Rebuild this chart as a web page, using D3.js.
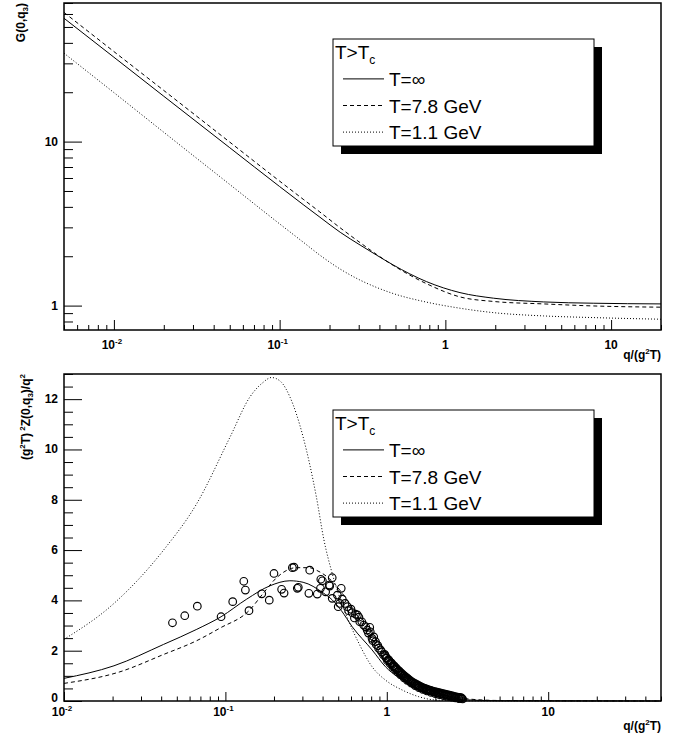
<!DOCTYPE html>
<html>
<head>
<meta charset="utf-8">
<script src="https://cdn.jsdelivr.net/npm/d3@7"></script>
<style>
body { margin: 0; background: #fff; }
text { font-family: "Liberation Sans", Arial, Helvetica, sans-serif; fill: #000; }
.tick-label, .axis-title { font-weight: bold; }
</style>
</head>
<body>
<div id="container"></div>
<script>
// ---- top panel: G(0,q3) vs q/(g^2 T), log-log ----
var gQ      = [0.005, 0.01, 0.02, 0.05, 0.1, 0.14, 0.175, 0.232, 0.306, 0.385, 0.484, 0.77, 1.225, 1.95, 3.92, 7.86, 20];
var gInf    = [56.5, 32.7, 18.9, 9.18, 5.32, 4.10, 3.46, 2.80, 2.34, 2.03, 1.77, 1.40, 1.20, 1.11, 1.053, 1.034, 1.024];
var g78     = [61.3, 35.4, 20.5, 9.93, 5.74, 4.42, 3.72, 2.98, 2.42, 2.05, 1.76, 1.36, 1.13, 1.06, 1.024, 0.995, 0.978];
var g11     = [34.6, 19.9, 11.4, 5.48, 3.15, 2.42, 2.03, 1.67, 1.43, 1.29, 1.185, 1.05, 0.964, 0.906, 0.865, 0.845, 0.826];

// ---- bottom panel: (g^2T)^2 Z(0,q3)/q^2 ----
var zQ      = [0.01, 0.0204, 0.0414, 0.0665, 0.094, 0.1355, 0.1888, 0.251, 0.303, 0.403, 0.459, 0.522, 0.611, 0.811, 0.982, 1.37, 2.09, 3.0, 5.0, 50];
var zInf    = [0.90, 1.40, 2.25, 2.85, 3.35, 4.05, 4.58, 4.78, 4.72, 4.30, 4.02, 3.60, 2.95, 2.03, 1.36, 0.70, 0.17, 0.05, 0.01, 0];
var z78Q    = [0.01, 0.0222, 0.0414, 0.0665, 0.092, 0.1405, 0.175, 0.2075, 0.2754, 0.33, 0.366, 0.443, 0.556, 0.70, 0.85, 1.0, 1.4, 2.0, 3.0, 5.0, 50];
var z78     = [0.70, 1.16, 1.85, 2.40, 2.89, 3.60, 4.35, 4.90, 5.30, 5.30, 5.20, 4.85, 4.10, 3.10, 2.30, 1.75, 0.88, 0.35, 0.10, 0.02, 0];
var z11Q    = [0.01, 0.0204, 0.0414, 0.0665, 0.107, 0.142, 0.17, 0.193, 0.22, 0.251, 0.303, 0.366, 0.408, 0.459, 0.556, 0.672, 0.811, 0.982, 1.243, 1.58, 2.0, 3.0, 50];
var z11     = [2.45, 3.88, 6.0, 7.85, 10.5, 12.09, 12.65, 12.86, 12.7, 12.09, 10.5, 8.12, 6.4, 5.07, 3.48, 2.29, 1.36, 0.83, 0.44, 0.17, 0.04, 0.005, 0];

// lattice points (open circles), scattered part up to q~1
var ptQ = [0.047, 0.056, 0.067, 0.094, 0.111, 0.130, 0.133, 0.140, 0.168, 0.187, 0.200, 0.223, 0.231, 0.260, 0.266, 0.279, 0.283,
           0.329, 0.333, 0.371, 0.388, 0.390, 0.399, 0.418, 0.440, 0.443, 0.459, 0.459, 0.494, 0.500, 0.511, 0.522, 0.551,
           0.580, 0.610, 0.640, 0.658, 0.672, 0.700, 0.720, 0.756, 0.784, 0.810, 0.830, 0.851, 0.880, 0.914, 0.955, 0.980,
           0.53, 0.57, 0.60, 0.63, 0.68, 0.74, 0.77, 0.79, 0.82, 0.86, 0.89, 0.93, 0.97, 0.99];
var ptV = [3.11, 3.39, 3.77, 3.35, 3.95, 4.76, 4.41, 3.59, 4.26, 4.01, 5.07, 4.44, 4.29, 5.30, 5.32, 4.48, 4.52,
           4.28, 5.20, 4.25, 4.48, 4.84, 4.78, 4.34, 4.61, 4.57, 4.90, 4.08, 4.21, 3.75, 3.88, 4.48, 3.88,
           3.59, 3.51, 3.45, 3.42, 3.33, 3.15, 3.02, 2.82, 2.93, 2.49, 2.55, 2.36, 2.20, 2.03, 1.83, 1.80,
           4.05, 3.75, 3.65, 3.30, 3.15, 2.95, 2.70, 2.75, 2.40, 2.25, 2.10, 1.95, 1.85, 1.72];
// dense band of lattice points, q~1 to 3
var bandQ = [1.00, 1.02, 1.04, 1.06, 1.08, 1.10, 1.12, 1.15, 1.18, 1.21, 1.24, 1.27, 1.30, 1.33, 1.36, 1.40, 1.44, 1.48, 1.52, 1.56,
             1.60, 1.65, 1.70, 1.75, 1.80, 1.85, 1.90, 1.96, 2.02, 2.08, 2.14, 2.20, 2.27, 2.34, 2.41, 2.48, 2.55, 2.62, 2.70, 2.78, 2.86, 2.92,
             1.01, 1.05, 1.09, 1.13, 1.17, 1.22, 1.28, 1.34, 1.42, 1.50, 1.58, 1.67, 1.77, 1.88, 2.00, 2.12, 2.25, 2.38, 2.52, 2.66, 2.80, 2.95,
             1.03, 1.07, 1.11, 1.14, 1.165, 1.195, 1.225, 1.255, 1.285, 1.315, 1.345, 1.38, 1.42, 1.46, 1.50, 1.54, 1.58, 1.625, 1.675,
             1.725, 1.775, 1.825, 1.875, 1.93, 1.99, 2.05, 2.11, 2.17, 2.235, 2.305, 2.375, 2.445, 2.515, 2.585, 2.66, 2.74, 2.82, 2.89];
var bandV = [1.70, 1.64, 1.58, 1.52, 1.46, 1.40, 1.35, 1.27, 1.20, 1.13, 1.06, 1.00, 0.94, 0.89, 0.84, 0.77, 0.72, 0.67, 0.63, 0.59,
             0.56, 0.52, 0.48, 0.45, 0.42, 0.40, 0.38, 0.35, 0.33, 0.31, 0.29, 0.27, 0.25, 0.23, 0.21, 0.19, 0.17, 0.15, 0.13, 0.12, 0.11, 0.10,
             1.60, 1.48, 1.36, 1.25, 1.15, 1.04, 0.92, 0.82, 0.71, 0.61, 0.53, 0.46, 0.40, 0.34, 0.29, 0.25, 0.21, 0.18, 0.15, 0.12, 0.09, 0.08,
             1.63, 1.51, 1.40, 1.32, 1.25, 1.19, 1.12, 1.06, 1.00, 0.95, 0.90, 0.84, 0.78, 0.73, 0.69, 0.65, 0.61, 0.57, 0.53,
             0.50, 0.47, 0.44, 0.42, 0.39, 0.37, 0.35, 0.33, 0.31, 0.29, 0.27, 0.25, 0.23, 0.21, 0.19, 0.17, 0.15, 0.14, 0.13];

var legendHeader = "T>T";
var legendLabels = ["T=\u221e", "T=7.8 GeV", "T=1.1 GeV"];
var dashes = [null, "4,3", "1,2"];

var W = 681, H = 738;
var svg = d3.select('#container').append('svg')
	.attr('width', W).attr('height', H);

var frameL = 64, frameR = 661;

// top panel scales
var xTop = d3.scaleLog().domain([0.005, 20]).range([frameL, frameR]);
var yTop = d3.scaleLog().domain([0.71, 70]).range([330, 3]);
// bottom panel scales
var xBot = d3.scaleLog().domain([0.01, 50]).range([frameL, frameR]);
var yBot = d3.scaleLinear().domain([0, 13]).range([701, 374]);

function logLabel(sel, v) {
	var e = Math.round(Math.log10(v));
	if (e < 0) {
		sel.append('tspan').text('10');
		sel.append('tspan').attr('font-size', 8).attr('dy', -5).text(String(e));
	} else sel.text(e == 0 ? "1" : "10");
}

function drawXAxis(x, yPix, tickLen, labelDy, titleDy) {
	var majors = [0.01, 0.1, 1, 10];
	var minors = x.ticks().filter(d => majors.indexOf(d) < 0);
	svg.append('g').attr('transform', 'translate(0,' + yPix + ')')
		.call(d3.axisBottom(x).tickValues(minors).tickSize(-tickLen / 2).tickFormat(''))
		.call(g => g.select('.domain').remove());
	svg.append('g').attr('transform', 'translate(0,' + yPix + ')')
		.call(d3.axisBottom(x).tickValues(majors).tickSize(-tickLen).tickFormat(''))
		.call(g => g.select('.domain').remove());
	majors.forEach(function(m) {
		var t = svg.append('text').attr('class', 'tick-label')
			.attr('x', x(m) - (m < 1 ? 2 : 0)).attr('y', yPix + labelDy)
			.attr('text-anchor', 'middle').attr('font-size', 12);
		logLabel(t, m);
	});
	var title = svg.append('text').attr('class', 'axis-title')
		.attr('x', frameR).attr('y', yPix + titleDy)
		.attr('text-anchor', 'end').attr('font-size', 12);
	title.append('tspan').text('q/(g');
	title.append('tspan').attr('font-size', 8).attr('dy', -5).text('2');
	title.append('tspan').attr('dy', 5).text('T)');
}

function drawFrame(x, y) {
	var r = x.range(), s = y.range();
	svg.append('rect')
		.attr('x', r[0]).attr('y', s[1])
		.attr('width', r[1] - r[0]).attr('height', s[0] - s[1])
		.attr('fill', 'none').attr('stroke', '#000').attr('stroke-width', 1.5);
}

function drawCurves(x, y, series) {
	var line = d3.line()
		.x(d => x(d[0])).y(d => y(d[1]))
		.curve(d3.curveMonotoneX);
	series.forEach(function(s, i) {
		svg.append('path')
			.datum(s.q.map((q, k) => [q, s.v[k]]))
			.attr('d', line)
			.attr('fill', 'none').attr('stroke', '#000').attr('stroke-width', 1)
			.attr('stroke-dasharray', dashes[i]);
	});
}

function drawLegend(x0, y0) {
	var w = 261, h = 107, rowH = 26.6;
	var g = svg.append('g');
	g.append('rect').attr('x', x0 + 8).attr('y', y0 + 8).attr('width', w).attr('height', h).attr('fill', '#000');
	g.append('rect').attr('x', x0).attr('y', y0).attr('width', w).attr('height', h)
		.attr('fill', '#fff').attr('stroke', '#000').attr('stroke-width', 1);
	var hd = g.append('text').attr('x', x0 + 2).attr('y', y0 + 20).attr('font-size', 19);
	hd.append('tspan').text(legendHeader);
	hd.append('tspan').attr('font-size', 12).attr('dy', 5).text('c');
	legendLabels.forEach(function(lab, i) {
		var cy = y0 + rowH * (i + 1.5);
		g.append('line').attr('x1', x0 + 10).attr('x2', x0 + 51)
			.attr('y1', cy).attr('y2', cy)
			.attr('stroke', '#000').attr('stroke-width', 1)
			.attr('stroke-dasharray', dashes[i]);
		g.append('text').attr('x', x0 + 56).attr('y', cy + 7)
			.attr('font-size', 19).text(lab);
	});
}

function drawYAxis(y, majors, minors) {
	svg.append('g').attr('transform', 'translate(' + frameL + ',0)')
		.call(d3.axisLeft(y).tickValues(minors).tickSize(-9).tickFormat(''))
		.call(g => g.select('.domain').remove());
	svg.append('g').attr('transform', 'translate(' + frameL + ',0)')
		.call(d3.axisLeft(y).tickValues(majors).tickSize(-18).tickFormat(''))
		.call(g => g.select('.domain').remove());
	majors.forEach(function(m) {
		svg.append('text').attr('class', 'tick-label')
			.attr('x', 58).attr('y', y(m) + 4 - (m === 0 ? 3 : 0))
			.attr('text-anchor', 'end').attr('font-size', 12).text(m);
	});
}

// ---------- top panel ----------
(function() {
	var x = xTop, y = yTop;
	drawCurves(x, y, [{q: gQ, v: gInf}, {q: gQ, v: g78}, {q: gQ, v: g11}]);
	drawXAxis(x, 330, 10, 19, 29);
	var majors = [1, 10];
	drawYAxis(y, majors, y.ticks().filter(d => majors.indexOf(d) < 0));
	var t = svg.append('text').attr('class', 'axis-title')
		.attr('transform', 'translate(25,3) rotate(-90)')
		.attr('text-anchor', 'end').attr('font-size', 12);
	t.append('tspan').text('G(0,q');
	t.append('tspan').attr('font-size', 8).attr('dy', 3).text('3');
	t.append('tspan').attr('dy', -3).text(')');
	drawFrame(x, y);
	drawLegend(333, 39);
})();

// ---------- bottom panel ----------
(function() {
	var x = xBot, y = yBot;
	drawCurves(x, y, [{q: zQ, v: zInf}, {q: z78Q, v: z78}, {q: z11Q, v: z11}]);
	var pts = ptQ.map((q, k) => [q, ptV[k]]).concat(bandQ.map((q, k) => [q, bandV[k]]));
	svg.append('g').selectAll('circle')
		.data(pts)
		.join('circle')
		.attr('cx', d => x(d[0])).attr('cy', d => y(d[1]))
		.attr('r', 3.8)
		.attr('fill', 'none').attr('stroke', '#000').attr('stroke-width', 1.15);
	drawXAxis(x, 701, 9, 15, 29);
	var majors = d3.range(0, 13, 2);
	drawYAxis(y, majors, d3.range(0, 13.01, 0.5).filter(d => d % 2 != 0));
	var t = svg.append('text').attr('class', 'axis-title')
		.attr('transform', 'translate(30,374) rotate(-90)')
		.attr('text-anchor', 'end').attr('font-size', 12);
	t.append('tspan').text('(g');
	t.append('tspan').attr('font-size', 8).attr('dy', -5).text('2');
	t.append('tspan').attr('dy', 5).text('T)');
	t.append('tspan').attr('font-size', 8).attr('dy', -5).text(' 2');
	t.append('tspan').attr('dy', 5).text('Z(0,q');
	t.append('tspan').attr('font-size', 8).attr('dy', 3).text('3');
	t.append('tspan').attr('dy', -3).text(')/q');
	t.append('tspan').attr('font-size', 8).attr('dy', -5).text('2');
	drawFrame(x, y);
	drawLegend(333, 410);
})();
</script>
</body>
</html>
